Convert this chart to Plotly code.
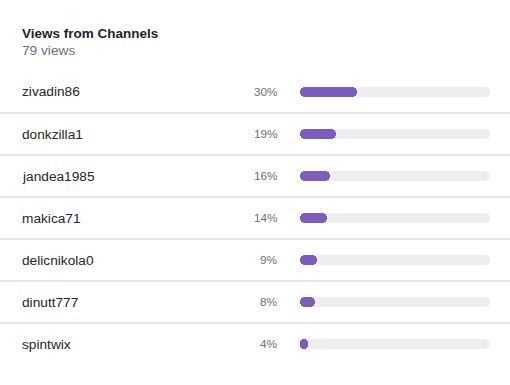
import plotly.graph_objects as go

channels = ["zivadin86", "donkzilla1", "jandea1985", "makica71", "delicnikola0", "dinutt777", "spintwix"]
percents = [30, 19, 16, 14, 9, 8, 4]
title = "Views from Channels"
subtitle = "79 views"

W, H = 510, 385
row_h = 42
first_center = 92
n = len(channels)
top_px = first_center - row_h / 2
bot_px = top_px + row_h * n
track_x0, track_x1 = 300, 490

FONT = "Liberation Sans, Arial, Helvetica, sans-serif"
PURPLE = "#7c5cbf"
TRACK = "#eeeef1"

ys = list(range(n))
fig = go.Figure()


def pill(values, color):
    fig.add_trace(go.Bar(
        y=ys, x=values, base=[0] * n, orientation="h",
        marker=dict(color=color, line=dict(width=0), cornerradius=5),
        width=10 / row_h, hoverinfo="skip", showlegend=False))


pill([100] * n, TRACK)
pill(percents, PURPLE)

annotations = [
    dict(x=20 / W, y=1 - 33 / H, xref="paper", yref="paper", text=f"<b>{title}</b>",
         showarrow=False, xanchor="left", yanchor="middle",
         font=dict(family=FONT, size=13.5, color="#1f1f24")),
    dict(x=20 / W, y=1 - 51 / H, xref="paper", yref="paper", text=subtitle,
         showarrow=False, xanchor="left", yanchor="middle",
         font=dict(family=FONT, size=13.7, color="#6e6e78")),
]
for i, (c, p) in enumerate(zip(channels, percents)):
    annotations.append(dict(x=20 / W, y=i, xref="paper", yref="y", text=c, showarrow=False,
                            xanchor="left", yanchor="middle",
                            font=dict(family=FONT, size=13.7, color="#26262b")))
    annotations.append(dict(x=280 / W, y=i, xref="paper", yref="y", text=f"{p}%", showarrow=False,
                            xanchor="right", yanchor="middle",
                            font=dict(family=FONT, size=11.8, color="#6e6e78")))

shapes = []
for i in range(n - 1):
    shapes.append(dict(type="line", xref="paper", yref="y", x0=0, x1=1, y0=i + 0.5, y1=i + 0.5,
                       line=dict(color="#dcdcdf", width=1.3)))

fig.update_layout(
    width=W, height=H, margin=dict(l=0, r=0, t=0, b=0),
    paper_bgcolor="white", plot_bgcolor="white",
    barmode="overlay", barcornerradius=5, bargap=0,
    xaxis=dict(domain=[track_x0 / W, track_x1 / W], range=[0, 100], visible=False, fixedrange=True),
    yaxis=dict(domain=[1 - bot_px / H, 1 - top_px / H], range=[n - 0.5, -0.5], visible=False,
               fixedrange=True),
    annotations=annotations, shapes=shapes,
)

fig.write_html("out.html", config={"displayModeBar": False},
               post_script="document.body.style.margin='0';document.body.style.overflow='hidden';")
